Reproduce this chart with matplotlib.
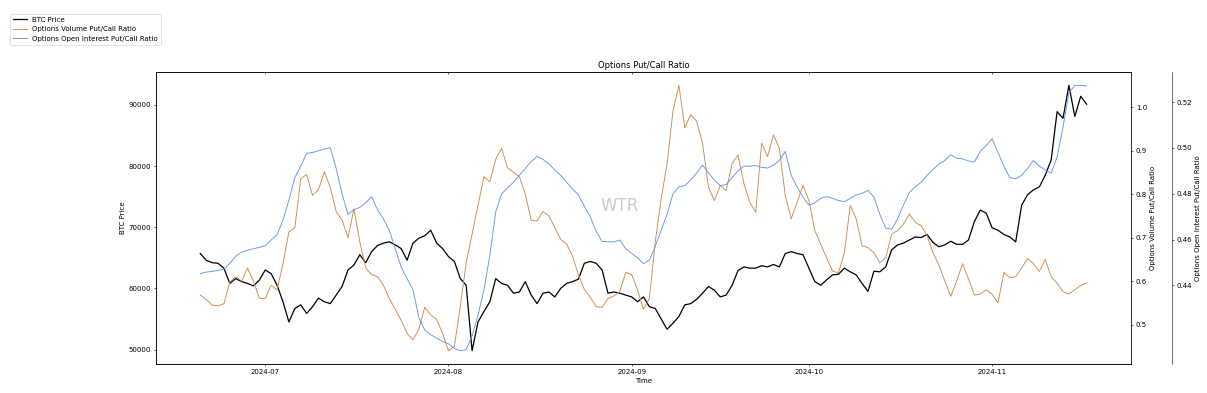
import numpy as np
import pandas as pd
import matplotlib
matplotlib.use("Agg")
import matplotlib.pyplot as plt

# daily values, starting 2024-06-20
dates = pd.date_range("2024-06-20", periods=151, freq="D")

btc_price = [
    65700, 64600, 64200, 64100, 63300, 60800, 61600, 61100, 60800, 60400,
    61350, 63000, 62400, 60500, 57800, 54500, 56700, 57300, 55900, 57000,
    58400, 57800, 57500, 58900, 60300, 63000, 63800, 65500, 64200, 66000,
    67000, 67400, 67600, 67100, 66500, 64600, 67400, 68200, 68600, 69500,
    67400, 66500, 65200, 64400, 61600, 60500, 49800, 54500, 56200, 57800,
    61600, 60800, 60500, 59200, 59400, 61100, 58900, 57500, 59200, 59400,
    58600, 60000, 60800, 61100, 61500, 64100, 64400, 64100, 63000, 59200,
    59400, 59200, 58900, 58600, 57800, 58600, 57000, 56700, 55000, 53300,
    54300, 55400, 57300, 57500, 58200, 59200, 60300, 59700, 58600, 58900,
    60500, 62900, 63500, 63300, 63300, 63700, 63500, 63900, 63500, 65700,
    66000, 65700, 65500, 63300, 61100, 60500, 61400, 62200, 62300, 63300,
    62700, 62200, 60800, 59500, 62800, 62700, 63500, 66300, 67100, 67400,
    67900, 68400, 68300, 68800, 67500, 66800, 67100, 67700, 67200, 67200,
    67900, 70900, 72800, 72300, 69900, 69500, 68800, 68400, 67600, 73600,
    75300, 76100, 76600, 78500, 81000, 88900, 87800, 93200, 88100, 91400,
    90100,
]

volume_pcr = [
    0.568, 0.558, 0.545, 0.543, 0.548, 0.598, 0.610, 0.600, 0.630, 0.600,
    0.560, 0.560, 0.590, 0.580, 0.640, 0.713, 0.722, 0.835, 0.845, 0.797,
    0.810, 0.851, 0.815, 0.760, 0.740, 0.700, 0.766, 0.690, 0.630, 0.615,
    0.610, 0.590, 0.560, 0.535, 0.510, 0.480, 0.465, 0.490, 0.540, 0.522,
    0.512, 0.480, 0.440, 0.450, 0.541, 0.642, 0.708, 0.774, 0.840, 0.828,
    0.880, 0.905, 0.860, 0.850, 0.840, 0.800, 0.740, 0.738, 0.760, 0.750,
    0.723, 0.696, 0.685, 0.657, 0.615, 0.581, 0.563, 0.541, 0.540, 0.560,
    0.566, 0.576, 0.620, 0.615, 0.580, 0.535, 0.560, 0.690, 0.789, 0.870,
    0.991, 1.050, 0.952, 0.983, 0.967, 0.917, 0.816, 0.785, 0.820, 0.808,
    0.870, 0.890, 0.824, 0.781, 0.758, 0.917, 0.886, 0.936, 0.905, 0.797,
    0.743, 0.781, 0.820, 0.785, 0.716, 0.685, 0.653, 0.623, 0.619, 0.665,
    0.774, 0.743, 0.681, 0.677, 0.665, 0.642, 0.654, 0.708, 0.716, 0.731,
    0.754, 0.735, 0.727, 0.705, 0.665, 0.637, 0.600, 0.565, 0.600, 0.640,
    0.605, 0.568, 0.570, 0.580, 0.570, 0.550, 0.620, 0.608, 0.610, 0.630,
    0.652, 0.640, 0.622, 0.650, 0.610, 0.595, 0.576, 0.570, 0.580, 0.590,
    0.596,
]

oi_pcr = [
    0.4451, 0.4458, 0.4461, 0.4465, 0.4470, 0.4496, 0.4527, 0.4545, 0.4553, 0.4560,
    0.4566, 0.4573, 0.4598, 0.4621, 0.4685, 0.4772, 0.4870, 0.4920, 0.4976, 0.4980,
    0.4987, 0.4995, 0.5001, 0.4910, 0.4800, 0.4710, 0.4730, 0.4740, 0.4760, 0.4787,
    0.4730, 0.4690, 0.4640, 0.4560, 0.4480, 0.4430, 0.4380, 0.4260, 0.4205, 0.4185,
    0.4170, 0.4155, 0.4145, 0.4125, 0.4115, 0.4120, 0.4180, 0.4270, 0.4380, 0.4530,
    0.4720, 0.4800, 0.4825, 0.4850, 0.4880, 0.4910, 0.4940, 0.4962, 0.4950, 0.4930,
    0.4903, 0.4880, 0.4850, 0.4820, 0.4795, 0.4745, 0.4700, 0.4635, 0.4592, 0.4590,
    0.4590, 0.4598, 0.4560, 0.4540, 0.4520, 0.4495, 0.4510, 0.4570, 0.4640, 0.4710,
    0.4800, 0.4830, 0.4835, 0.4860, 0.4890, 0.4925, 0.4890, 0.4860, 0.4835, 0.4840,
    0.4870, 0.4900, 0.4920, 0.4920, 0.4923, 0.4915, 0.4912, 0.4925, 0.4945, 0.4985,
    0.4880, 0.4830, 0.4785, 0.4750, 0.4760, 0.4780, 0.4787, 0.4780, 0.4770, 0.4765,
    0.4780, 0.4794, 0.4801, 0.4815, 0.4785, 0.4710, 0.4650, 0.4645, 0.4690, 0.4750,
    0.4805, 0.4830, 0.4850, 0.4880, 0.4905, 0.4930, 0.4945, 0.4970, 0.4955, 0.4952,
    0.4943, 0.4938, 0.4985, 0.5010, 0.5040, 0.4980, 0.4920, 0.4870, 0.4865, 0.4880,
    0.4910, 0.4945, 0.4920, 0.4903, 0.4890, 0.4960, 0.5090, 0.5240, 0.5272, 0.5273,
    0.5270,
]

# drawn at twice the size and half the dpi -> 1207x393
fig = plt.figure(figsize=(24.14, 7.86), dpi=50)
ax = fig.add_axes([0.1292, 0.0738, 0.8078, 0.743])

l1, = ax.plot(dates, btc_price, color="black", lw=1.8, label="BTC Price")
ax.set_xlabel("Time")
ax.set_ylabel("BTC Price")
ax.set_title("Options Put/Call Ratio")

ax2 = ax.twinx()
l2, = ax2.plot(dates, volume_pcr, color="#d08a4a", lw=1.3, label="Options Volume Put/Call Ratio")
ax2.set_ylabel("Options Volume Put/Call Ratio")

ax3 = ax.twinx()
ax3.spines["right"].set_position(("axes", 1.042))
l3, = ax3.plot(dates, oi_pcr, color="cornflowerblue", lw=1.3,
               label="Options Open Interest Put/Call Ratio")
ax3.set_ylabel("Options Open Interest Put/Call Ratio")
ax3.set_yticks([0.44, 0.46, 0.48, 0.50, 0.52])

# small inward ticks on the top edge
ax2.xaxis.set_visible(True)
ax2.tick_params(axis="x", top=True, bottom=False, labeltop=False,
                labelbottom=False, direction="in")

ax.text(0.476, 0.54, "WTR", transform=ax.transAxes, fontsize=24,
        color="gray", alpha=0.4, ha="center", va="center")

fig.legend(handles=[l1, l2, l3], loc="upper left",
           bbox_to_anchor=(0.0083, 0.964), borderaxespad=0)

fig.savefig("out.png", dpi=50)
